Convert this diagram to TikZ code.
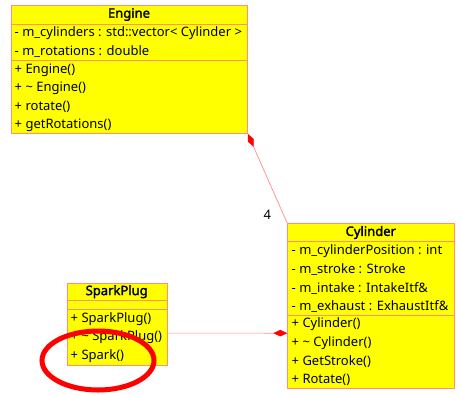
\documentclass[tikz,border=0pt]{standalone}
\usepackage{fontspec}
\setmainfont{Noto Sans}[AutoFakeBold=2]
\usetikzlibrary{arrows.meta}

\definecolor{classfill}{HTML}{FFFF00}
\definecolor{classline}{HTML}{FF9070}
\definecolor{linkline}{HTML}{FF8A8A}

\tikzset{
  classbox/.style={draw=classline, fill=classfill, line width=0.9pt, inner sep=0pt, anchor=north west},
  sepline/.style={draw=classline, line width=0.9pt},
  classname/.style={font=\bfseries\fontsize{13}{15}\selectfont, inner sep=0pt, text=black},
  member/.style={font=\fontsize{13}{15}\selectfont, inner sep=0pt, anchor=west, text=black},
  composition/.style={draw=linkline, line width=0.7pt,
    {Diamond[length=14pt, width=6.5pt, color=red, fill=red]}-},
  mark ring/.style={draw=red, line width=5pt}
}

\begin{document}
\begin{tikzpicture}[x=1pt, y=-1pt]
\useasboundingbox (0,0) rectangle (462,394);

% Engine
\node[classbox, minimum width=236pt, minimum height=128pt] (engine) at (11,5) {};
\draw[sepline] (11,24) -- (247,24);
\draw[sepline] (11,60.5) -- (247,60.5);
\node[classname] (engine-name) at (129,14.5) {Engine};
\node[member] (engine-a1) at (14.5,33) {- m\_cylinders : std::vector< Cylinder >};
\node[member] (engine-a2) at (14.5,51.3) {- m\_rotations : double};
\node[member] (engine-m1) at (14.5,70) {+ Engine()};
\node[member] (engine-m2) at (14.5,88.3) {+ \textasciitilde{} Engine()};
\node[member] (engine-m3) at (14.5,106.6) {+ rotate()};
\node[member] (engine-m4) at (14.5,124.9) {+ getRotations()};

% Cylinder
\node[classbox, minimum width=167pt, minimum height=165pt] (cylinder) at (287.3,223.3) {};
\draw[sepline] (287.3,241.7) -- (454.3,241.7);
\draw[sepline] (287.3,315) -- (454.3,315);
\node[classname] (cylinder-name) at (370.8,232.5) {Cylinder};
\node[member] (cylinder-a1) at (291.5,251.5) {- m\_cylinderPosition : int};
\node[member] (cylinder-a2) at (291.5,269.8) {- m\_stroke : Stroke};
\node[member] (cylinder-a3) at (291.5,288.1) {- m\_intake : IntakeItf\&};
\node[member] (cylinder-a4) at (291.5,306.4) {- m\_exhaust : ExhaustItf\&};
\node[member] (cylinder-m1) at (291.5,324.5) {+ Cylinder()};
\node[member] (cylinder-m2) at (291.5,342.8) {+ \textasciitilde{} Cylinder()};
\node[member] (cylinder-m3) at (291.5,361.1) {+ GetStroke()};
\node[member] (cylinder-m4) at (291.5,379.4) {+ Rotate()};

% SparkPlug
\node[classbox, minimum width=100pt, minimum height=82.3pt] (sparkplug) at (66.7,282.7) {};
\draw[sepline] (66.7,300.7) -- (166.7,300.7);
\draw[sepline] (66.7,309.3) -- (166.7,309.3);
\node[classname] (sparkplug-name) at (116.7,291.7) {SparkPlug};
\node[member] (sparkplug-m1) at (70.5,318.8) {+ SparkPlug()};
\node[member] (sparkplug-m2) at (70.5,337.3) {+ \textasciitilde{} SparkPlug()};
\node[member] (sparkplug-m3) at (70.5,355.8) {+ Spark()};

% Compositions
\draw[composition] (engine.south east) -- (cylinder.north west)
  node[pos=0.9, anchor=east, xshift=-12pt, inner sep=0pt, font=\fontsize{13}{15}\selectfont] (mult) {4};
\draw[composition] ([yshift=-26.9pt]cylinder.west) -- ([yshift=-8.8pt]sparkplug.east);

% Highlight ring
\draw[mark ring] (98,360.5) ellipse [x radius=56, y radius=29.5];
\end{tikzpicture}
\end{document}
